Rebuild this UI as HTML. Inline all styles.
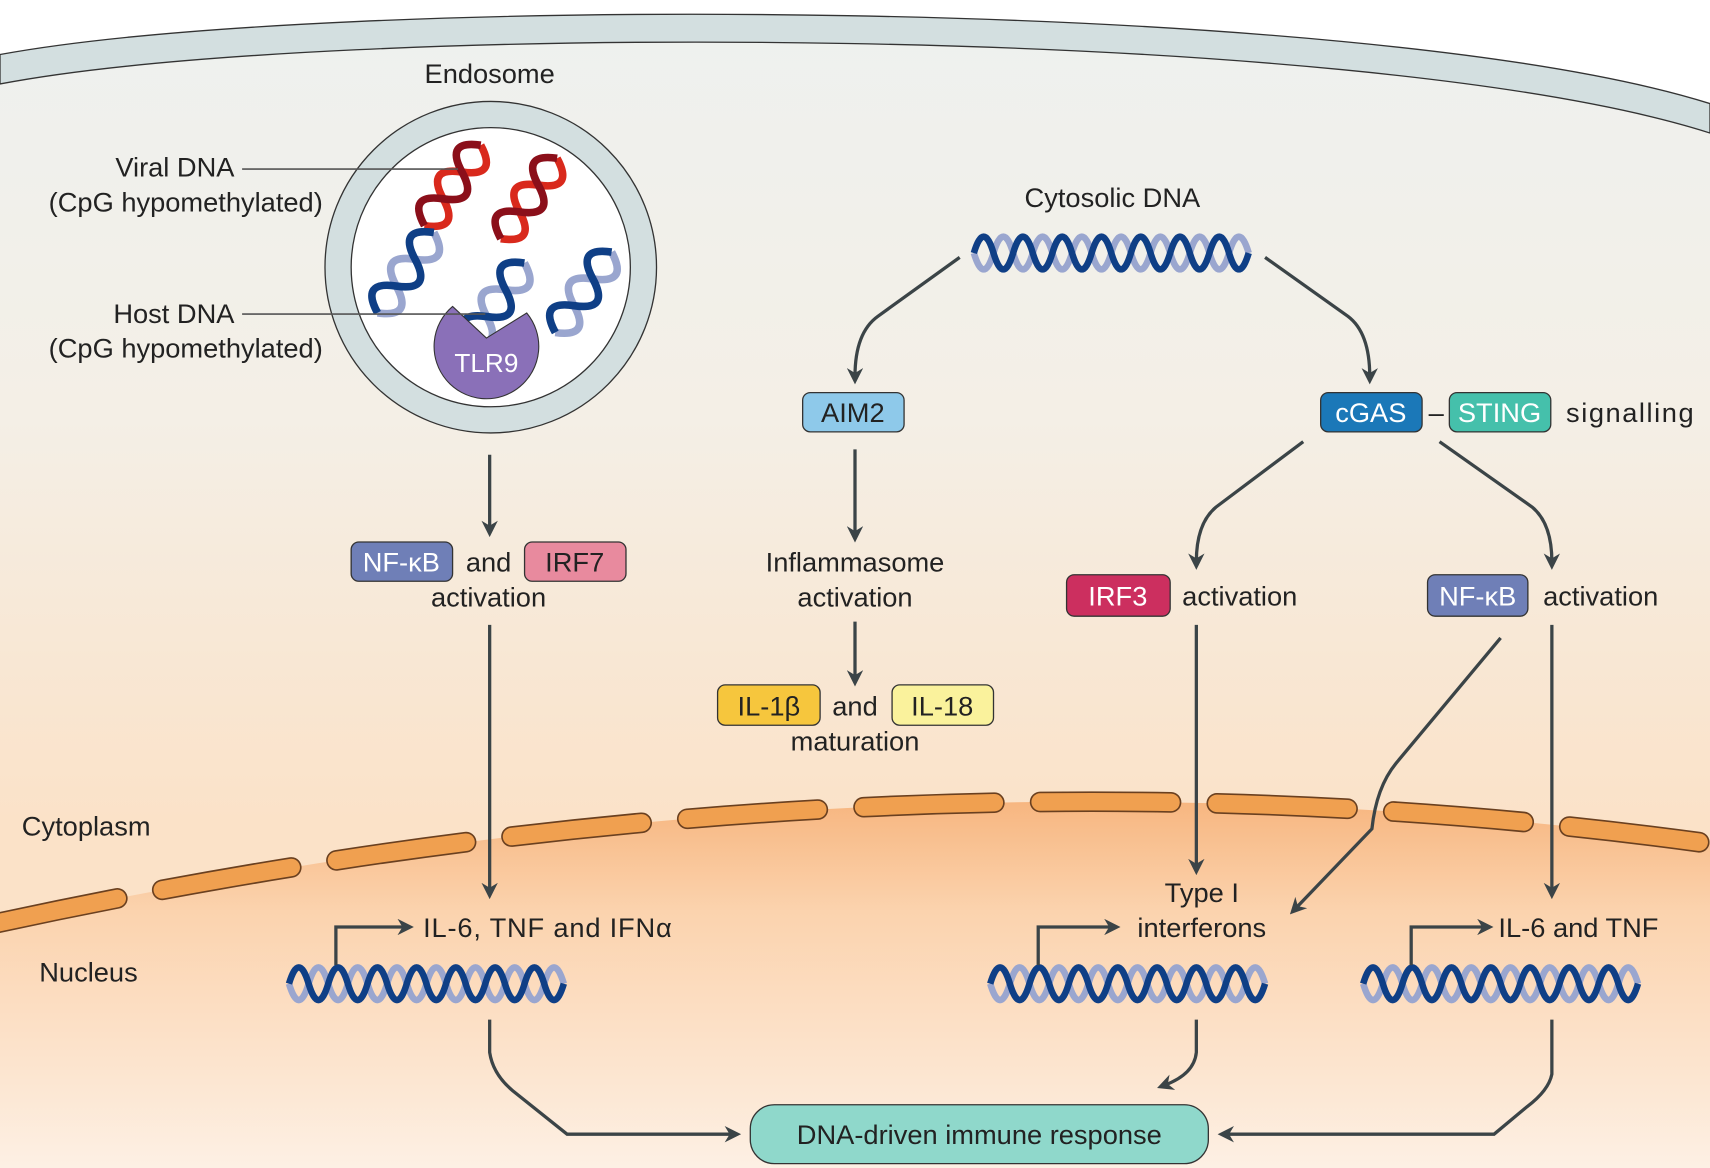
<!DOCTYPE html>
<html><head><meta charset="utf-8"><style>
html,body{margin:0;padding:0;background:#fff}
svg{display:block}
text{font-family:"Liberation Sans",sans-serif;fill:#222}
</style></head><body>
<svg width="1710" height="1168" viewBox="0 0 1568 1071" xmlns="http://www.w3.org/2000/svg" preserveAspectRatio="none">
<defs>
<linearGradient id="cyto" x1="0" y1="0" x2="0" y2="1">
<stop offset="0" stop-color="#eef1ef"/><stop offset="0.35" stop-color="#f4efe6"/><stop offset="0.7" stop-color="#fbe2c8"/><stop offset="1" stop-color="#fbe2c8"/></linearGradient>
<linearGradient id="nuc" x1="0" y1="0" x2="0" y2="1">
<stop offset="0" stop-color="#f7b680"/><stop offset="0.3" stop-color="#fbd3ae"/><stop offset="1" stop-color="#fdf0e4"/></linearGradient>
<marker id="ah" viewBox="0 0 10 10" refX="5" refY="5" markerWidth="5" markerHeight="5" orient="auto-start-reverse" markerUnits="strokeWidth">
<path d="M0 0 L10 5 L0 10 L3 5 Z" fill="#3b4447"/></marker>
<g id="sh">
<path d="M-45 0 q15 30 30 0 t30 0 t30 0" fill="none" stroke="#9aa6cf" stroke-width="7"/>
<path d="M-45 0 q15 -30 30 0 t30 0 t30 0" fill="none" stroke="#0f3f86" stroke-width="7"/>
</g>
<g id="shr">
<path d="M-45 0 q15 30 30 0 t30 0 t30 0" fill="none" stroke="#d9291c" stroke-width="7"/>
<path d="M-45 0 q15 -30 30 0 t30 0 t30 0" fill="none" stroke="#8b0f1a" stroke-width="7"/>
</g>
<g id="lh">
<path d="M0 0 q9 30 18 0 t18 0 t18 0 t18 0 t18 0 t18 0 t18 0 t18 0 t18 0 t18 0 t18 0 t18 0 t18 0 t18 0" fill="none" stroke="#9aa6cf" stroke-width="6"/>
<path d="M0 0 q9 -30 18 0 t18 0 t18 0 t18 0 t18 0 t18 0 t18 0 t18 0 t18 0 t18 0 t18 0 t18 0 t18 0 t18 0" fill="none" stroke="#0f3f86" stroke-width="6"/>
</g>
</defs>
<rect width="1568" height="1071" fill="#fff"/>
<path d="M0 50 C300 -5 1250 -5 1568 95 L1568 1071 L0 1071 Z" fill="url(#cyto)"/>
<path d="M0 50 C300 -5 1250 -5 1568 95 L1568 122 C1250 20 300 20 0 77 Z" fill="#d3dfe0" stroke="#333" stroke-width="1.2"/>
<path d="M-10 848 Q816 668 1578 775 L1578 1071 L-10 1071 Z" fill="url(#nuc)"/>
<path d="M-10 848 Q816 668 1578 775" fill="none" stroke="#6a4020" stroke-width="19" stroke-dasharray="120 42" stroke-linecap="round"/>
<path d="M-10 848 Q816 668 1578 775" fill="none" stroke="#f0a050" stroke-width="16" stroke-dasharray="120 42" stroke-linecap="round"/>

<circle cx="450" cy="245" r="152" fill="#d3dfe0" stroke="#333" stroke-width="1.2"/>
<circle cx="450" cy="245" r="128" fill="#fff" stroke="#333" stroke-width="1.2"/>
<use href="#shr" transform="translate(415,170) rotate(-55)"/>
<use href="#shr" transform="translate(485,182) rotate(-55)"/>
<use href="#sh" transform="translate(372,250) rotate(-55)"/>
<use href="#sh" transform="translate(455,278) rotate(-55)"/>
<use href="#sh" transform="translate(535,268) rotate(-55)"/>
<path d="M415 281 L446 310 L483 287 A48 48 0 1 1 415 281 Z" fill="#8a70b8" stroke="#333" stroke-width="1"/>
<text x="446" y="341" font-size="24" text-anchor="middle" style="fill:#fff">TLR9</text>
<line x1="222" y1="155" x2="420" y2="155" stroke="#555" stroke-width="1.5"/>
<line x1="222" y1="288" x2="445" y2="288" stroke="#555" stroke-width="1.5"/>
<text x="449" y="76" font-size="25" text-anchor="middle">Endosome</text>
<text x="215" y="162" font-size="25" text-anchor="end">Viral DNA</text>
<text x="296" y="194" font-size="25" text-anchor="end">(CpG hypomethylated)</text>
<text x="215" y="296" font-size="25" text-anchor="end">Host DNA</text>
<text x="296" y="328" font-size="25" text-anchor="end">(CpG hypomethylated)</text>

<text x="1020" y="190" font-size="25" text-anchor="middle">Cytosolic DNA</text>
<use href="#lh" transform="translate(893,232)"/>
<use href="#lh" transform="translate(265,902)"/>
<use href="#lh" transform="translate(908,902)"/>
<use href="#lh" transform="translate(1250,902)"/>

<g stroke="#333" stroke-width="1.2">
<rect x="322" y="497" width="93" height="36" rx="7" fill="#6f7fb7"/>
<rect x="481" y="497" width="93" height="36" rx="7" fill="#e88a9e"/>
<rect x="736" y="360" width="93" height="36" rx="7" fill="#8ec9ea"/>
<rect x="1211" y="360" width="93" height="36" rx="7" fill="#1b78b8"/>
<rect x="1329" y="360" width="93" height="36" rx="7" fill="#45c0ab"/>
<rect x="978" y="527" width="95" height="38" rx="7" fill="#cc2f5f"/>
<rect x="1309" y="527" width="92" height="38" rx="7" fill="#6f7fb7"/>
<rect x="658" y="628" width="94" height="37" rx="7" fill="#f6c63d"/>
<rect x="818" y="628" width="93" height="37" rx="7" fill="#faf29c"/>
<rect x="688" y="1013" width="420" height="54" rx="22" fill="#8fd8cb"/>
</g>
<g font-size="25" text-anchor="middle">
<text x="368" y="524" style="fill:#fff">NF-κB</text>
<text x="527" y="524">IRF7</text>
<text x="782" y="387">AIM2</text>
<text x="1257" y="387" style="fill:#fff">cGAS</text>
<text x="1375" y="387" style="fill:#fff">STING</text>
<text x="1025" y="555" style="fill:#fff">IRF3</text>
<text x="1355" y="555" style="fill:#fff">NF-κB</text>
<text x="705" y="656">IL-1β</text>
<text x="864" y="656">IL-18</text>
<text x="898" y="1049">DNA-driven immune response</text>
<text x="448" y="524">and</text>
<text x="448" y="556">activation</text>
<text x="784" y="524">Inflammasome</text>
<text x="784" y="556">activation</text>
<text x="784" y="656">and</text>
<text x="784" y="688">maturation</text>
<text x="1317" y="387">–</text>
<text x="1102" y="827">Type I</text>
<text x="1102" y="859">interferons</text>
</g>
<g font-size="25">
<text x="1436" y="387" textLength="117">signalling</text>
<text x="1084" y="555">activation</text>
<text x="1415" y="555">activation</text>
<text x="20" y="766">Cytoplasm</text>
<text x="36" y="900">Nucleus</text>
<text x="388" y="859" textLength="228">IL-6, TNF and IFNα</text>
<text x="1374" y="859">IL-6 and TNF</text>
</g>

<g fill="none" stroke="#3b4447" stroke-width="3" marker-end="url(#ah)">
<path d="M449 417 L449 485"/>
<path d="M449 573 L449 817"/>
<path d="M880 236 L805 290 Q784 305 784 345"/>
<path d="M1160 236 L1236 290 Q1256 305 1256 345"/>
<path d="M784 412 L784 490"/>
<path d="M784 570 L784 622"/>
<path d="M1195 405 L1115 465 Q1097 480 1097 515"/>
<path d="M1320 405 L1405 465 Q1423 480 1423 515"/>
<path d="M1097 573 L1097 795"/>
<path d="M1376 585 L1280 700 Q1262 722 1258 760 L1188 833"/>
<path d="M1423 573 L1423 817"/>
<path d="M449 935 L449 965 Q452 985 470 1000 L520 1040 L672 1040"/>
<path d="M1097 935 L1097 965 Q1095 985 1068 995"/>
<path d="M1423 935 L1423 985 Q1420 1000 1400 1015 L1370 1040 L1124 1040"/>
<path d="M308 885 L308 850 L372 850"/>
<path d="M952 885 L952 850 L1020 850"/>
<path d="M1294 885 L1294 850 L1362 850"/>
</g>
</svg>
</body></html>
